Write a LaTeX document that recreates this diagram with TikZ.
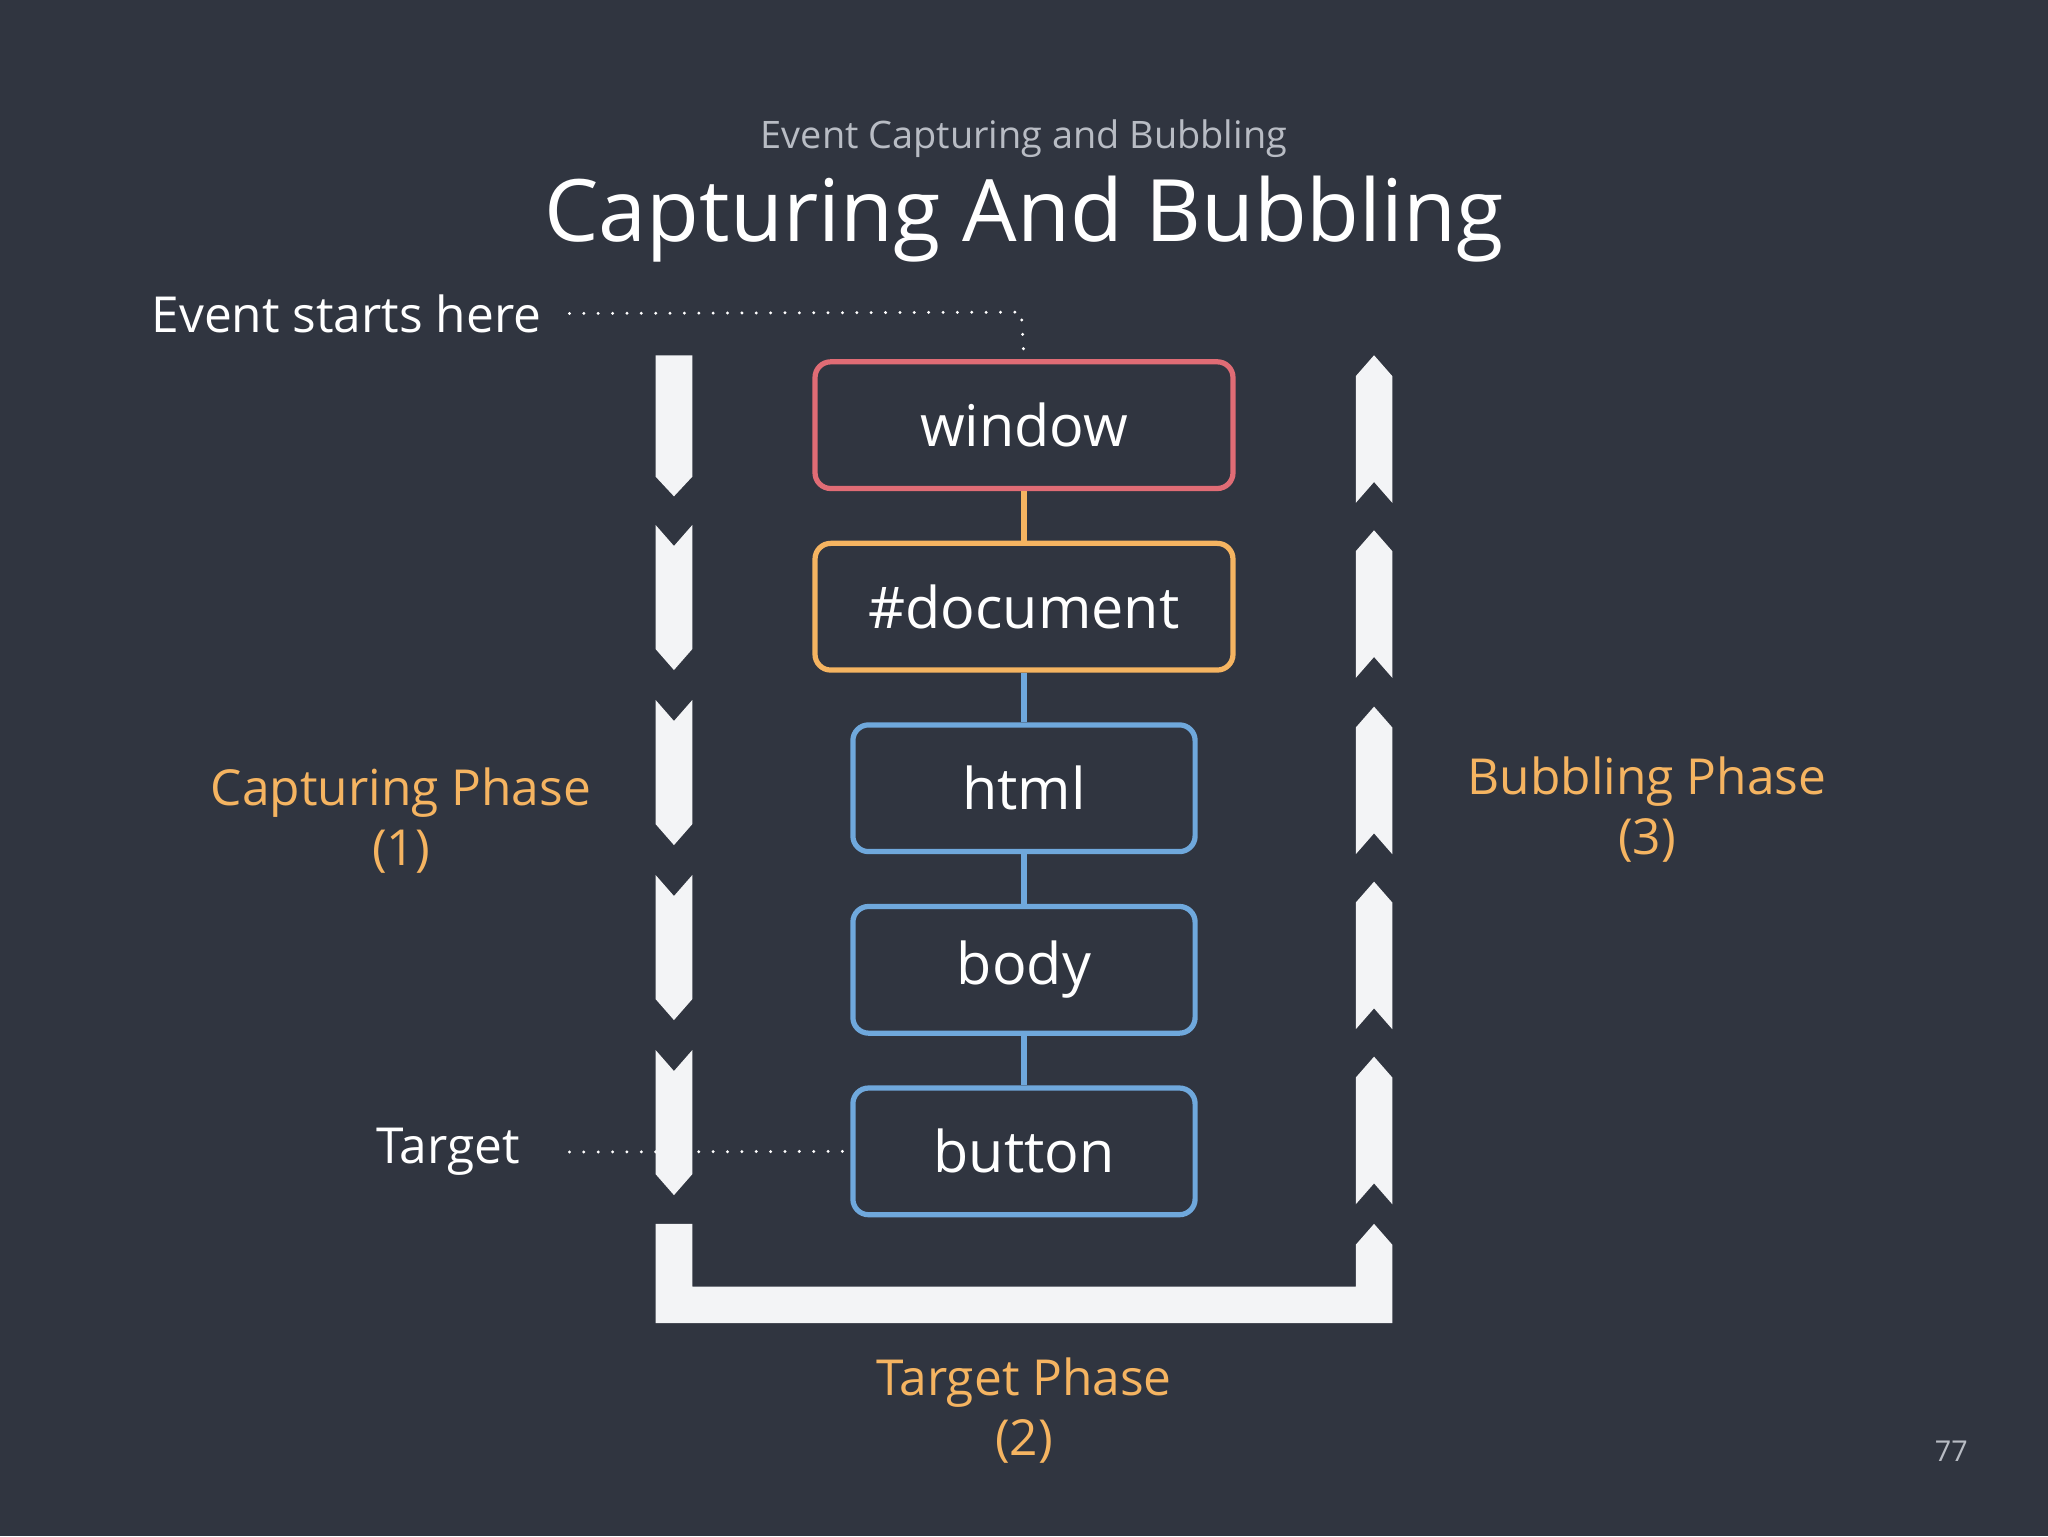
\documentclass[tikz,border=0pt]{standalone}
\usepackage{fontspec}
\setmainfont{Open Sans}
\definecolor{bg}{HTML}{303540}
\definecolor{arr}{HTML}{F3F4F6}
\definecolor{cred}{HTML}{E06C75}
\definecolor{corg}{HTML}{F5B461}
\definecolor{cblu}{HTML}{6FA8DC}
\definecolor{subg}{HTML}{B8BCC4}
\begin{document}
\begin{tikzpicture}[x=1pt,y=-1pt,
  elbox/.style={draw,line width=4pt,rounded corners=12pt,text=white,font=\fontsize{44}{50}\selectfont,inner sep=0pt},
  lab/.style={font=\fontsize{38}{46}\selectfont,align=center},
  dots/.style={white,line width=2.5pt,dash pattern=on 0pt off 11pt,line cap=round},
  chev/.style={fill=arr,draw=none}]
\fill[bg] (0,0) rectangle (1568,1176);
\useasboundingbox (0,0) rectangle (1568,1176);
\node[subg,font=\fontsize{29}{34}\selectfont] (sub) at (784,106) {Event Capturing and Bubbling};
\node[white,font=\fontsize{66}{76}\selectfont] (title) at (784,168) {Capturing And Bubbling};
% boxes
\node[elbox,draw=cred,minimum width=320pt,minimum height=97pt] (win) at (784,325.5) {window};
\node[elbox,draw=corg,minimum width=320pt,minimum height=97pt] (doc) at (784,464.5) {\#document};
\node[elbox,draw=cblu,minimum width=262pt,minimum height=97pt] (html) at (784,603.5) {html};
\node[elbox,draw=cblu,minimum width=262pt,minimum height=97pt] (body) at (784,742.5) {body};
\node[elbox,draw=cblu,minimum width=262pt,minimum height=97pt] (btn) at (784,881.5) {button};
\draw[corg,line width=4pt] (win.south) -- (doc.north);
\draw[cblu,line width=4pt] (doc.south) -- (html.north);
\draw[cblu,line width=4pt] (html.south) -- (body.north);
\draw[cblu,line width=4pt] (body.south) -- (btn.north);
% labels
\node[white,lab,anchor=east] (start) at (418,240) {Event starts here};
\coordinate (c1) at (782,239);
\draw[dots] (start.east)++(18,0) -- (c1) -- (win.north);
\node[white,lab] (tgt) at (343,882) {Target};
\draw[dots] (436,882) -- (btn.west);
\node[corg,lab] (cap) at (307,628) {Capturing Phase\\(1)};
\node[corg,lab] (bub) at (1261,620) {Bubbling Phase\\(3)};
\node[corg,lab] (tph) at (784,1080) {Target Phase\\(2)};
\node[subg,font=\fontsize{22}{26}\selectfont] (pg) at (1494,1111) {77};
% left chevrons (down)
\fill[chev] (502,272) -- (530,272) -- (530,365) -- (516,380) -- (502,365) -- cycle;
\foreach \t in {402,536,670,804}{
  \fill[chev] (502,\t) -- (516,\t+16) -- (530,\t) -- (530,\t+95) -- (516,\t+111) -- (502,\t+95) -- cycle;}
% right chevrons (up)
\foreach \t in {272,406,541,675,809}{
  \fill[chev] (1038,\t+16) -- (1052,\t) -- (1066,\t+16) -- (1066,\t+113) -- (1052,\t+97) -- (1038,\t+113) -- cycle;}
% bottom U
\fill[chev] (502,937) -- (530,937) -- (530,985) -- (1038,985) -- (1038,953) -- (1052,937) -- (1066,953) -- (1066,1013) -- (502,1013) -- cycle;
\end{tikzpicture}
\end{document}
